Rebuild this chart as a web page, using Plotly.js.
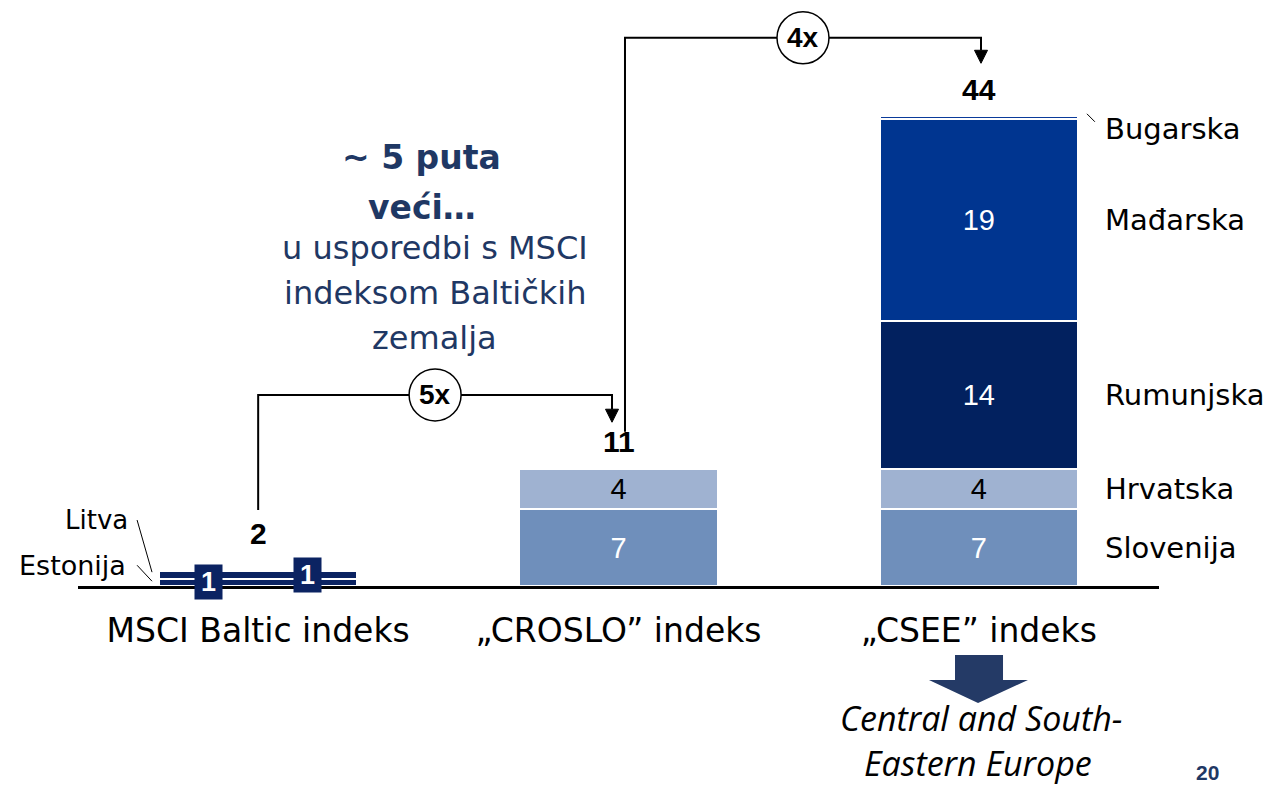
<!DOCTYPE html>
<html>
<head>
<meta charset="utf-8">
<script src="https://cdn.plot.ly/plotly-3.0.1.min.js"></script>
<style>html,body{margin:0;padding:0;background:#fff;}</style>
</head>
<body>
<div id="chart" style="width:1270px;height:787px;"></div>
<script>
// ---------- DATA ----------
const categories = ['MSCI Baltic indeks', '„CROSLO” indeks', '„CSEE” indeks'];
const estonija   = [0.7,  null, null];
const litva      = [0.75, null, null];
const slovenija  = [null, 7.2,  7.2];
const hrvatska   = [null, 3.8,  3.8];
const rumunjska  = [null, null, 13.9];
const madjarska  = [null, null, 19.0];
const bugarska   = [null, null, 0.3];
const totalsText = ['2', '11', '44'];
const ratioText  = ['5x', '4x'];
const segLabels  = {Slovenija: ['', '7', '7'], Hrvatska: ['', '4', '4'], Rumunjska: ['', '', '14'], Madjarska: ['', '', '19']};
const balticLabels = ['1', '1'];

// ---------- STYLE ----------
const TXT = 'DejaVu Sans';
const NUM = 'Liberation Sans';
const col = {
  baltic: '#0B2362', slo: '#6F8FBB', hrv: '#9FB2D1', rum: '#02215F', mad: '#003590', bug: '#0A3A9A'
};
const xi = [0, 1, 2];
const stackTop = xi.map(i => [estonija, litva, slovenija, hrvatska, rumunjska, madjarska, bugarska]
  .reduce((s, a) => s + (a[i] || 0), 0));

function barTrace(name, y, color, text, tcolor) {
  return {
    type: 'bar', name: name, x: categories, y: y,
    marker: {color: color, line: {color: '#ffffff', width: 2}},
    text: text || y.map(() => ''), texttemplate: '%{text}',
    textposition: 'inside', insidetextanchor: 'middle', constraintext: 'none',
    textfont: {family: NUM, size: 29, color: tcolor || '#fff'},
    hoverinfo: 'skip', showlegend: false
  };
}
const traces = [
  barTrace('Estonija', estonija, col.baltic),
  barTrace('Litva', litva, col.baltic),
  barTrace('Slovenija', slovenija, col.slo, segLabels.Slovenija, '#ffffff'),
  barTrace('Hrvatska', hrvatska, col.hrv, segLabels.Hrvatska, '#000000'),
  barTrace('Rumunjska', rumunjska, col.rum, segLabels.Rumunjska, '#ffffff'),
  barTrace('Mađarska', madjarska, col.mad, segLabels.Madjarska, '#ffffff'),
  barTrace('Bugarska', bugarska, col.bug)
];

const PXX = 360.33, PXY = 10.63;

const annotations = [];
const shapes = [];

// totals above bars
const totalOffsets = [3.45, 2.55, 2.45];
xi.forEach(i => annotations.push({
  x: i, y: stackTop[i] + totalOffsets[i], xref: 'x', yref: 'y', text: '<b>' + totalsText[i] + '</b>',
  showarrow: false, font: {family: NUM, size: 30, color: '#000'}, xanchor: 'center', yanchor: 'middle'
}));

// right-side segment labels for CSEE
const cseeSeries = [['Slovenija', slovenija], ['Hrvatska', hrvatska], ['Rumunjska', rumunjska], ['Mađarska', madjarska], ['Bugarska', bugarska]];
let cum = 0;
cseeSeries.forEach(([nm, arr]) => {
  const v = arr[2];
  let mid = cum + v / 2;
  cum += v;
  if (nm === 'Bugarska') mid -= 1.1;
  annotations.push({x: 2.345, y: mid, xref: 'x', yref: 'y', text: nm,
    showarrow: false, xanchor: 'left', yanchor: 'middle', font: {family: TXT, size: 29, color: '#000'}});
});
// Bugarska leader
shapes.push({type: 'line', xref: 'x', yref: 'y', x0: 2.300, y0: stackTop[2] + 0.2, x1: 2.322, y1: stackTop[2] - 0.55,
  line: {color: '#000', width: 1}});

// Baltic "1" boxes
const balticMids = [estonija[0] / 2, estonija[0] + litva[0] / 2];
const balticXoff = [-0.139, 0.138];
balticLabels.forEach((t, k) => annotations.push({
  x: 0 + balticXoff[k], y: balticMids[k], xref: 'x', yref: 'y', text: '<b>' + t + '</b>', showarrow: false,
  font: {family: NUM, size: 27, color: '#fff'}, bgcolor: col.baltic, width: 23, height: 30, borderpad: 2,
  xanchor: 'center', yanchor: 'middle'
}));
// Litva / Estonija labels and leaders
annotations.push({x: 0.048, y: 0.1126, xref: 'paper', yref: 'paper', text: 'Litva', showarrow: false,
  xanchor: 'right', yanchor: 'middle', font: {family: TXT, size: 26, color: '#000'}});
annotations.push({x: 0.046, y: 0.0358, xref: 'paper', yref: 'paper', text: 'Estonija', showarrow: false,
  xanchor: 'right', yanchor: 'middle', font: {family: TXT, size: 27, color: '#000'}});
shapes.push({type: 'line', xref: 'x', yref: 'y', x0: -0.336, y0: 6.2, x1: -0.2946, y1: 1.3, line: {color: '#000', width: 1}});
shapes.push({type: 'line', xref: 'x', yref: 'y', x0: -0.336, y0: 1.95, x1: -0.2946, y1: 0.45, line: {color: '#000', width: 1}});

// connectors
const conns = [
  {fromX: 0, fromY: 7.15, topY: 17.97, toX: 0.982, tipY: stackTop[1] + 4.4, label: ratioText[0]},
  {fromX: 1.018, fromY: 14.5, topY: 51.55, toX: 2.006, tipY: stackTop[2] + 4.95, label: ratioText[1]}
];
const ahW = 6.5 / PXX, ahH = 13 / PXY;
conns.forEach(c => {
  shapes.push({type: 'path', xref: 'x', yref: 'y',
    path: `M ${c.fromX},${c.fromY} L ${c.fromX},${c.topY} L ${c.toX},${c.topY} L ${c.toX},${c.tipY + ahH}`,
    line: {color: '#000', width: 2}});
  shapes.push({type: 'path', xref: 'x', yref: 'y',
    path: `M ${c.toX - ahW},${c.tipY + ahH} L ${c.toX + ahW},${c.tipY + ahH} L ${c.toX},${c.tipY} Z`,
    fillcolor: '#000', line: {color: '#000', width: 1}});
  const cx = (c.fromX + c.toX) / 2;
  shapes.push({type: 'circle', xref: 'x', yref: 'y', xsizemode: 'pixel', ysizemode: 'pixel',
    xanchor: cx, yanchor: c.topY, x0: -26, x1: 26, y0: -26, y1: 26,
    fillcolor: '#fff', line: {color: '#000', width: 1.5}});
  annotations.push({x: cx, y: c.topY, xref: 'x', yref: 'y', text: '<b>' + c.label + '</b>', showarrow: false,
    font: {family: NUM, size: 28, color: '#000'}, xanchor: 'center', yanchor: 'middle'});
});

// comparison text block
const blockLines = [
  {t: '<b>~ 5 puta</b>', y: 157, size: 33},
  {t: '<b>veći…</b>', y: 208, size: 33},
  {t: 'u usporedbi s MSCI', y: 248, size: 32},
  {t: 'indeksom Baltičkih', y: 293, size: 32},
  {t: 'zemalja', y: 338, size: 32}
];
const xCenters = [0.318, 0.318, 0.330, 0.330, 0.330];
blockLines.forEach((l, k) => annotations.push({
  x: xCenters[k], y: (586 - l.y) / 586, xref: 'paper', yref: 'paper', text: l.t, showarrow: false,
  xanchor: 'center', yanchor: 'middle', font: {family: TXT, size: l.size, color: '#1F3864'}
}));

// bottom arrow and italic text
shapes.push({type: 'path', xref: 'paper', yref: 'paper',
  path: 'M 0.8113,-0.1177 L 0.8557,-0.1177 L 0.8557,-0.1604 L 0.8788,-0.1604 L 0.8326,-0.1997 L 0.7872,-0.1604 L 0.8113,-0.1604 Z',
  fillcolor: '#243A66', line: {width: 0}});
annotations.push({x: 0.8353, y: (586 - 718) / 586, xref: 'paper', yref: 'paper', text: '<i>Central and South-</i>',
  showarrow: false, xanchor: 'center', yanchor: 'middle', font: {family: 'Open Sans', size: 34, color: '#000'}});
annotations.push({x: 0.8326, y: (586 - 763) / 586, xref: 'paper', yref: 'paper', text: '<i>Eastern Europe</i>',
  showarrow: false, xanchor: 'center', yanchor: 'middle', font: {family: 'Open Sans', size: 34, color: '#000'}});
annotations.push({x: 1.0453, y: (586 - 772) / 586, xref: 'paper', yref: 'paper', text: '<b>20</b>',
  showarrow: false, xanchor: 'center', yanchor: 'middle', font: {family: NUM, size: 21, color: '#1F3864'}});

const layout = {
  width: 1270, height: 787,
  margin: {l: 78, r: 111, t: 0, b: 201, pad: 0},
  paper_bgcolor: '#fff', plot_bgcolor: '#fff',
  barmode: 'stack', bargap: 0.45,
  showlegend: false,
  xaxis: {
    type: 'category', range: [-0.5, 2.5], showline: true, linecolor: '#000', linewidth: 2.5,
    ticks: '', showgrid: false, zeroline: false, fixedrange: true,
    tickfont: {family: TXT, size: 33, color: '#000'}, ticklabelstandoff: 14
  },
  yaxis: {range: [0, 55.1], visible: false, showgrid: false, zeroline: false, fixedrange: true},
  shapes: shapes,
  annotations: annotations
};

Plotly.newPlot('chart', traces, layout, {displayModeBar: false, staticPlot: true});
</script>
</body>
</html>
